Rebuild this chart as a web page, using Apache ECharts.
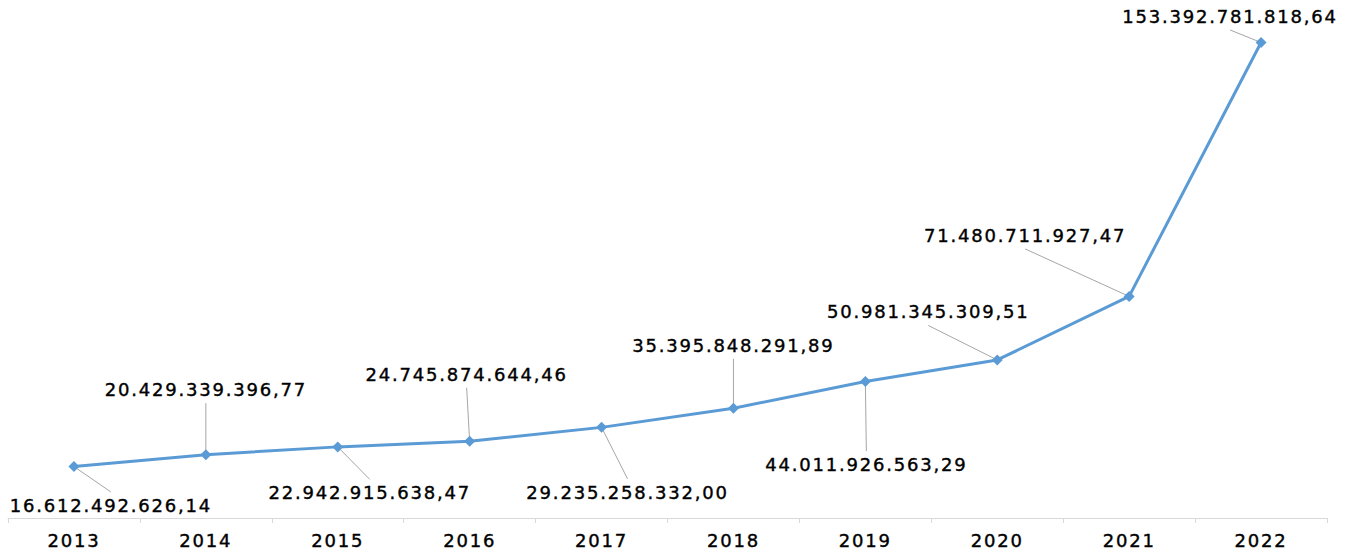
<!DOCTYPE html>
<html>
<head>
<meta charset="utf-8">
<script src="https://cdn.jsdelivr.net/npm/echarts@6/dist/echarts.min.js"></script>
<style>
  html, body { margin: 0; padding: 0; background: #fff; }
  #chart { width: 1353px; height: 555px; }
  /* tracking like the original font */
  #chart svg text { letter-spacing: 1.8px; }
</style>
</head>
<body>
<div id="chart"></div>
<script>
// data
var years = ['2013', '2014', '2015', '2016', '2017', '2018', '2019', '2020', '2021', '2022']
var totals = [
  16612492626.14, 20429339396.77, 22942915638.47, 24745874644.46, 29235258332.00,
  35395848291.89, 44011926563.29, 50981345309.51, 71480711927.47, 153392781818.64
]

// label offsets from the marker (layout only)
var labelShift = [
  [37, 39], [0, -65], [32, 46], [-3, -67], [26, 65],
  [0, -63], [1, 83], [-69, -48], [-104, -61], [-31, -26]
]

var fontFamily = '"DejaVu Sans", sans-serif'
var lineColor = '#5b9bd5'

function fmt(v) {
  return v.toLocaleString('de-DE', { minimumFractionDigits: 2, maximumFractionDigits: 2 })
}

var chart = echarts.init(document.getElementById('chart'), null, { renderer: 'svg' })

chart.setOption({
  animation: false,
  grid: {
    left: 8,
    right: 26,
    top: 22,
    bottom: 37,
    containLabel: false
  },
  xAxis: {
    type: 'category',
    data: years,
    axisLine: {
      lineStyle: { color: '#d9d9d9', width: 1 }
    },
    axisTick: {
      show: true,
      length: 5,
      lineStyle: { color: '#d9d9d9' }
    },
    axisLabel: {
      color: '#000',
      fontSize: 18,
      fontFamily: fontFamily,
      textBorderColor: '#000',
      textBorderWidth: 0.4,
      margin: 13
    },
    splitLine: { show: false }
  },
  yAxis: {
    type: 'value',
    show: false,
    min: 0,
    max: 160e9
  },
  series: [
    {
      // leader lines from each marker to its label (drawn under the line)
      type: 'custom',
      z: 1,
      silent: true,
      data: totals.map(function (v, i) { return [i, v] }),
      renderItem: function (params, api) {
        var p = api.coord([api.value(0), api.value(1)])
        var s = labelShift[params.dataIndex]
        var cy = p[1] + s[1]
        var ey = s[1] < 0 ? cy + 13.5 : cy - 13.5
        return {
          type: 'line',
          shape: { x1: p[0], y1: p[1], x2: p[0] + s[0], y2: ey },
          style: { stroke: '#a6a6a6', lineWidth: 1 }
        }
      }
    },
    {
      type: 'line',
      z: 2,
      data: totals,
      symbol: 'diamond',
      symbolSize: 11,
      lineStyle: { color: lineColor, width: 3 },
      itemStyle: { color: lineColor },
      label: {
        show: true,
        position: 'inside',
        color: '#000',
        fontSize: 18,
        fontFamily: fontFamily,
        textBorderColor: '#000',
        textBorderWidth: 0.4,
        formatter: function (p) { return fmt(p.value) }
      },
      labelLayout: function (p) {
        var s = labelShift[p.dataIndex]
        return { dx: s[0], dy: s[1] }
      }
    }
  ]
})
</script>
</body>
</html>
